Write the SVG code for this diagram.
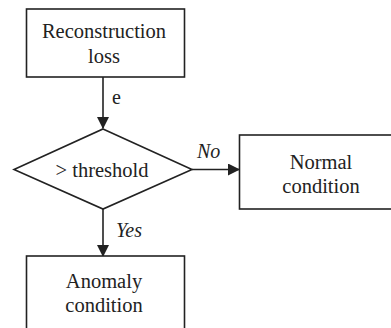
<svg xmlns="http://www.w3.org/2000/svg" width="391" height="328" viewBox="0 0 391 328">
<defs>
<style>
.box{fill:#fff;stroke:#222;stroke-width:1.6}
.t{font-size:20.5px;fill:#222;text-anchor:middle}
.lbl{font-size:20px;fill:#222;font-style:italic}
.e{font-size:20px;fill:#222}
.c{stroke:#222;stroke-width:1.6;fill:none;marker-end:url(#ah)}
</style>
<marker id="ah" markerWidth="12" markerHeight="12" refX="11" refY="6" orient="auto" markerUnits="userSpaceOnUse">
<path d="M0,0 L12,6 L0,12 Z" fill="#222"/>
</marker>
</defs>
<rect width="391" height="328" fill="#fff"/>
<g font-family="Liberation Serif, serif">
<g id="connectors">
<line class="c" x1="103" y1="77" x2="103" y2="128"/>
<line class="c" x1="192" y1="169.5" x2="239" y2="169.5"/>
<line class="c" x1="103" y1="209" x2="103" y2="256"/>
<text class="e" x="112" y="104">e</text>
<text class="lbl" x="197" y="158">No</text>
<text class="lbl" x="116" y="237">Yes</text>
</g>
<g id="reconstruction">
<rect class="box" x="26.5" y="9" width="158" height="68"/>
<text class="t" x="104" y="38">Reconstruction</text>
<text class="t" x="104" y="63">loss</text>
</g>
<g id="threshold">
<polygon class="box" points="103,129 192,169.5 103,209 14,169.5"/>
<text class="t" x="102" y="177">&gt; threshold</text>
</g>
<g id="normal">
<rect class="box" x="239.5" y="135" width="160" height="74"/>
<text class="t" x="321" y="169">Normal</text>
<text class="t" x="321" y="193">condition</text>
</g>
<g id="anomaly">
<rect class="box" x="26.5" y="256" width="158" height="80"/>
<text class="t" x="104" y="288">Anomaly</text>
<text class="t" x="104" y="312">condition</text>
</g>
</g>
</svg>
